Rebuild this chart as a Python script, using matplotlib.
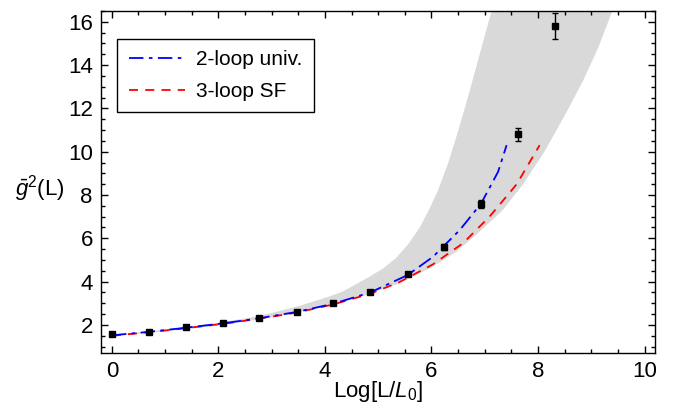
import numpy as np
import matplotlib.pyplot as plt
from matplotlib.ticker import MultipleLocator

plt.rcParams['font.family'] = ['Liberation Sans', 'DejaVu Sans']
plt.rcParams['mathtext.fontset'] = 'custom'
plt.rcParams['mathtext.it'] = 'Liberation Sans:italic'
plt.rcParams['mathtext.rm'] = 'Liberation Sans'

# data points
log_L = [0.0, 0.69, 1.39, 2.08, 2.77, 3.47, 4.16, 4.85, 5.55, 6.24, 6.93, 7.62, 8.32]
g2 = [1.57, 1.69, 1.89, 2.08, 2.31, 2.59, 3.00, 3.52, 4.35, 5.60, 7.58, 10.81, 15.80]
g2_err = [0.02, 0.02, 0.02, 0.03, 0.03, 0.04, 0.05, 0.06, 0.08, 0.12, 0.2, 0.3, 0.62]

# 2-loop universal
blue_x = [0.0, 0.69, 1.39, 2.08, 2.77, 3.47, 4.16, 4.85, 5.55, 6.03, 6.53, 6.93, 7.25, 7.41]
blue_y = [1.52, 1.68, 1.87, 2.07, 2.31, 2.60, 2.98, 3.50, 4.30, 5.15, 6.38, 7.60, 9.07, 10.3]

# 3-loop SF
red_x = [0.0, 0.69, 1.39, 2.08, 2.77, 3.47, 4.16, 4.85, 5.40, 6.03, 6.59, 7.09, 7.60, 8.03]
red_y = [1.50, 1.66, 1.85, 2.05, 2.29, 2.57, 2.95, 3.44, 3.98, 4.80, 5.77, 7.00, 8.50, 10.3]

# gray band edges
up_x = [0.0, 1.0, 2.0, 2.6, 3.0, 3.52, 4.08, 4.33, 4.84, 5.1, 5.34, 5.56, 5.78, 5.95, 6.12, 6.31,
        6.5, 6.7, 6.9, 7.15, 7.35]
up_y = [1.55, 1.78, 2.10, 2.34, 2.55, 2.88, 3.31, 3.54, 4.23, 4.62, 5.10, 5.72, 6.50, 7.30, 8.20, 9.45,
        10.95, 12.65, 14.45, 16.7, 18.6]
lo_x = [0.0, 1.0, 2.0, 3.0, 3.52, 4.08, 4.71, 5.34, 5.96, 6.47, 6.90, 7.34, 7.72, 8.12, 8.53, 8.85, 9.13, 9.38, 9.6]
lo_y = [1.48, 1.70, 1.98, 2.34, 2.58, 2.95, 3.33, 3.87, 4.60, 5.38, 6.30, 7.31, 8.50, 10.0, 11.8, 13.3, 14.8, 16.4, 18.0]

fig = plt.figure(figsize=(6.79, 4.04), dpi=100)
ax = fig.add_axes([0.149, 0.126, 0.816, 0.847])

ax.fill(up_x + lo_x[::-1], up_y + lo_y[::-1], color='#d9d9d9', lw=0, zorder=1)

ax.plot(blue_x, blue_y, color='blue', lw=1.3, linestyle=(0, (8, 3, 2, 3)),
        label='2-loop univ.', zorder=3)
ax.plot(red_x, red_y, color='red', lw=1.3, linestyle=(0, (5, 4)),
        label='3-loop SF', zorder=2)

ax.errorbar(log_L, g2, yerr=g2_err, fmt='s', color='black', ms=5,
            elinewidth=1, capsize=2, capthick=1, zorder=4)

ax.set_xlim(-0.2, 10.2)
ax.set_ylim(0.7, 16.5)
ax.xaxis.set_major_locator(MultipleLocator(2))
ax.xaxis.set_minor_locator(MultipleLocator(0.5))
ax.yaxis.set_major_locator(MultipleLocator(2))
ax.yaxis.set_minor_locator(MultipleLocator(0.5))
ax.tick_params(which='both', direction='in', top=True, right=True,
               labeltop=False, labelright=False, width=1)
ax.tick_params(which='major', length=5, labelsize=16, pad=6)
ax.tick_params(which='minor', length=3)
for s in ax.spines.values():
    s.set_linewidth(1)

ax.set_xlabel(r'Log[L/$L_0$]', fontsize=16, labelpad=0)
ax.xaxis.set_label_coords(0.5, -0.075, transform=ax.transAxes)
ax.xaxis.label.set_va('top')
ax.set_ylabel(r'$\bar{g}^2$(L)', fontsize=16, rotation=0, va='center', ha='center')
ax.yaxis.set_label_coords(-0.11, 0.48)

leg = ax.legend(loc='upper left', bbox_to_anchor=(0.029, 0.918), fontsize=15,
                handlelength=2.7, handletextpad=0.55, fancybox=False,
                edgecolor='black', framealpha=1, borderpad=0.55,
                labelspacing=0.6, borderaxespad=0)
leg.get_frame().set_linewidth(1)

fig.savefig('out.png', dpi=100)
